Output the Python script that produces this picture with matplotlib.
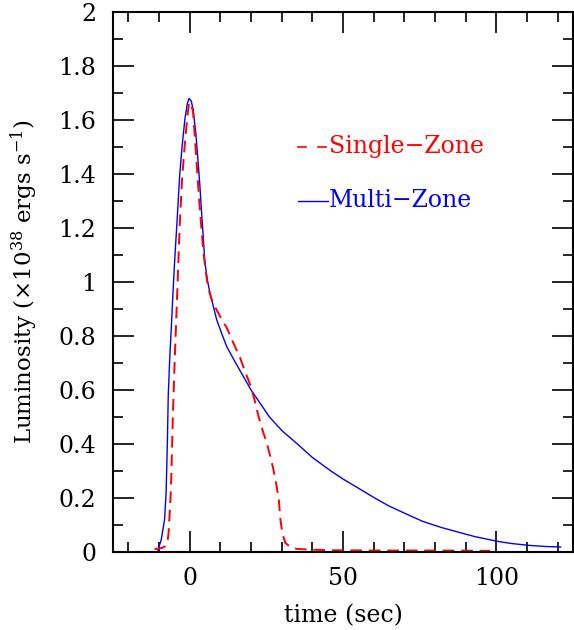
import numpy as np
import matplotlib
matplotlib.use("Agg")
from matplotlib import pyplot as plt
from matplotlib.ticker import MultipleLocator, FuncFormatter

plt.rcParams['font.family'] = ['DejaVu Serif']
plt.rcParams['mathtext.fontset'] = 'dejavuserif'

# multi-zone burst light curve
t_multi = [-10.4, -9.3, -8.2, -7.7, -7.3, -7.0, -6.5, -6.0, -5.5, -4.9,
           -4.0, -3.3, -2.5, -1.6, -0.8, -0.2, 0.5, 1.1, 2.0, 2.7,
           3.3, 3.8, 4.4, 4.9, 5.7, 6.6, 7.7, 8.8, 10.4, 12.1,
           14.5, 17.5, 20.0, 23.0, 26.0, 30.0, 35.1, 40.0, 46.0, 50.0,
           55.9, 60.3, 65.0, 71.3, 76.0, 82.2, 88.0, 93.2, 100.9, 105.0,
           110.8, 116.0, 121.0]
L_multi = [0.007, 0.044, 0.12, 0.22, 0.40, 0.58, 0.72, 0.83, 0.95, 1.08,
           1.25, 1.39, 1.50, 1.60, 1.66, 1.68, 1.67, 1.64, 1.55, 1.45,
           1.36, 1.27, 1.17, 1.08, 1.01, 0.96, 0.91, 0.86, 0.81, 0.76,
           0.71, 0.65, 0.60, 0.55, 0.50, 0.45, 0.40, 0.35, 0.30, 0.27,
           0.23, 0.20, 0.17, 0.137, 0.113, 0.09, 0.072, 0.056, 0.038, 0.031,
           0.024, 0.02, 0.018]

# single-zone burst light curve
t_single = [-11.5, -8.9, -7.8, -7.3, -6.9, -6.6, -6.3, -6.0, -5.5, -4.9,
            -4.0, -3.3, -2.5, -1.6, -0.8, -0.2, 0.4, 1.1, 2.2, 3.3,
            4.4, 5.2, 6.0, 7.0, 7.7, 10.0, 12.1, 14.0, 16.4, 18.0,
            19.7, 21.0, 22.5, 23.8, 25.2, 26.4, 27.4, 28.4, 29.1, 29.6,
            30.2, 31.2, 33.0, 35.0, 40.0, 46.0, 60.0, 80.0, 98.0]
L_single = [0.01, 0.015, 0.022, 0.033, 0.07, 0.13, 0.19, 0.28, 0.50, 0.71,
            0.98, 1.20, 1.38, 1.51, 1.61, 1.665, 1.66, 1.63, 1.45, 1.27,
            1.12, 1.04, 0.98, 0.94, 0.92, 0.87, 0.83, 0.78, 0.72, 0.67,
            0.62, 0.57, 0.50, 0.45, 0.40, 0.35, 0.30, 0.24, 0.19, 0.12,
            0.07, 0.033, 0.017, 0.011, 0.008, 0.006, 0.005, 0.005, 0.004]

fig = plt.figure(figsize=(5.74, 6.3), dpi=100)
ax = fig.add_axes([0.197, 0.124, 0.801, 0.857])

ax.plot(t_multi, L_multi, color='blue', lw=1.0)
ax.plot(t_single, L_single, color='red', lw=1.4, dashes=(6, 3.5))

# legend: line samples plus labels
ax.plot([35.2, 37.8], [1.50, 1.50], color='red', lw=1.2)
ax.plot([41.8, 44.4], [1.50, 1.50], color='red', lw=1.2)
ax.text(45.5, 1.50, 'Single\u2212Zone', color='red', fontsize=17, va='center')
ax.plot([35.2, 45.2], [1.30, 1.30], color='blue', lw=1.0)
ax.text(45.5, 1.30, 'Multi\u2212Zone', color='blue', fontsize=17, va='center')

ax.set_xlim(-25, 125)
ax.set_ylim(0, 2)
ax.xaxis.set_major_locator(MultipleLocator(50))
ax.xaxis.set_minor_locator(MultipleLocator(10))
ax.yaxis.set_major_locator(MultipleLocator(0.2))
ax.yaxis.set_minor_locator(MultipleLocator(0.1))
ax.yaxis.set_major_formatter(FuncFormatter(lambda v, p: '%g' % round(v, 2)))
ax.tick_params(which='both', direction='in', top=True, right=True,
               labelsize=17, width=1.2)
ax.tick_params(axis='y', pad=12)
ax.tick_params(axis='x', pad=11)
ax.tick_params(which='major', length=15)
ax.tick_params(which='minor', length=7.5)
for s in ax.spines.values():
    s.set_linewidth(1.5)

ax.set_xlabel('time (sec)', fontsize=17, labelpad=10)
ax.set_ylabel(r'Luminosity ($\times$10$^{38}$ ergs s$^{-1}$)', fontsize=16.5, labelpad=13)

fig.savefig('out.png', dpi=100)
